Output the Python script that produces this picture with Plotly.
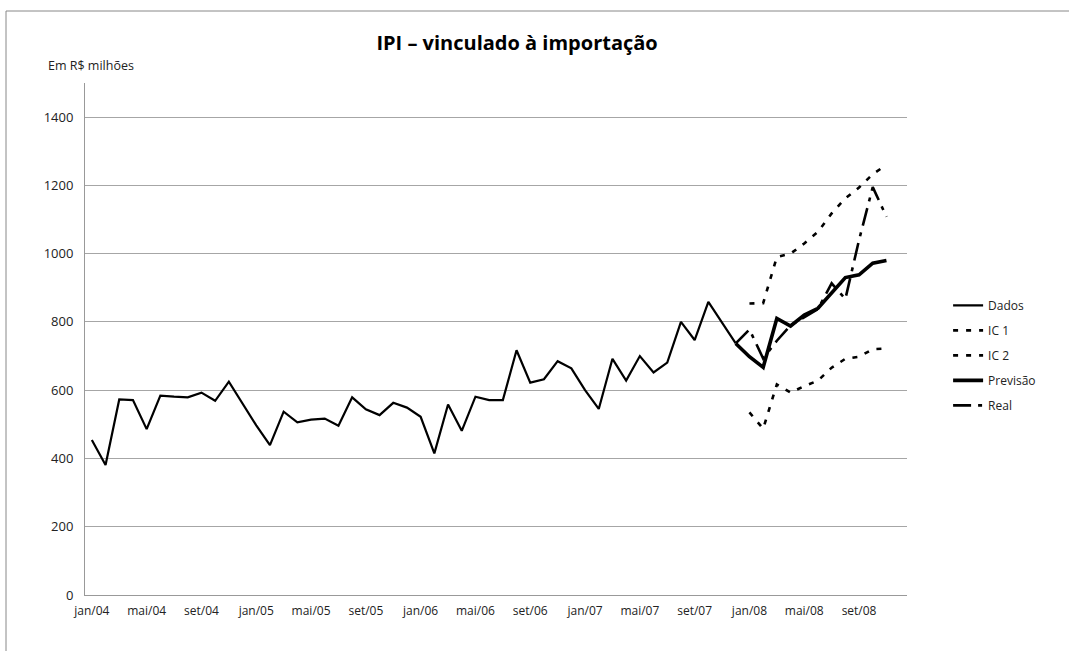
import plotly.graph_objects as go

month_names = ["jan", "fev", "mar", "abr", "mai", "jun", "jul", "ago", "set", "out", "nov", "dez"]
years = ["04", "05", "06", "07", "08"]
months = [f"{m}/{y}" for y in years for m in month_names]

dados = [454, 381, 573, 571, 486, 584, 581, 579, 593, 569, 625, 560,
         497, 439, 537, 506, 514, 517, 496, 579, 544, 527, 563, 549,
         522, 415, 558, 481, 581, 571, 571, 717, 622, 632, 685, 664,
         600, 545, 692, 628, 700, 652, 681, 800, 747, 859, 798, 737]
dados_x = months[0:48]

previsao = [737, 698, 667, 810, 788, 820, 840, 885, 930, 938, 972, 980]
previsao_x = months[47:59]

ic1 = [854, 855, 990, 1000, 1030, 1064, 1118, 1162, 1194, 1233, 1260]
ic2 = [535, 487, 617, 593, 612, 628, 666, 692, 698, 720, 722]
ic_x = months[48:59]

real = [737, 778, 693, 745, 790, 815, 838, 913, 867, 1040, 1195, 1108]
real_x = months[47:59]

tick_labels = months[0:60:4]
y_ticks = [0, 200, 400, 600, 800, 1000, 1200, 1400]

FONT = "Open Sans"

fig = go.Figure()
fig.add_trace(go.Scatter(x=dados_x, y=dados, mode="lines", name="Dados", legendgroup="a",
                         line=dict(color="#000000", width=2.2)))
fig.add_trace(go.Scatter(x=ic_x, y=ic1, mode="lines", name="IC 1", legendgroup="b",
                         line=dict(color="#000000", width=2.6, dash="5px,8px")))
fig.add_trace(go.Scatter(x=ic_x, y=ic2, mode="lines", name="IC 2", legendgroup="c",
                         line=dict(color="#000000", width=2.6, dash="5px,8px")))
fig.add_trace(go.Scatter(x=previsao_x, y=previsao, mode="lines", name="Previsão", legendgroup="d",
                         line=dict(color="#000000", width=3.6)))
fig.add_trace(go.Scatter(x=real_x, y=real, mode="lines", name="Real", legendgroup="e",
                         line=dict(color="#000000", width=2.6, dash="18px,7px,4px,7px")))

fig.update_layout(
    width=1069, height=651,
    margin=dict(l=85, r=162, t=83, b=56),
    paper_bgcolor="white", plot_bgcolor="white",
    font=dict(family=FONT, size=12, color="#222222"),
    title=dict(text="<b>IPI – vinculado à importação</b>", x=0.4837, xanchor="center",
               y=0.934, yanchor="middle", font=dict(family=FONT, size=20, color="#000000")),
    xaxis=dict(type="category", categoryorder="array", categoryarray=months,
               range=[-0.5, 59.5], tickmode="array", tickvals=tick_labels, ticktext=tick_labels,
               showgrid=False, showline=True, linecolor="#999999", linewidth=1,
               ticks="", zeroline=False, ticklabelstandoff=5,
               tickfont=dict(size=12, color="#222222")),
    yaxis=dict(range=[0, 1500], tickvals=y_ticks, showgrid=True, gridcolor="#a6a6a6",
               gridwidth=1, showline=True, linecolor="#999999", linewidth=1, ticks="",
               zeroline=False, ticklabelstandoff=8, tickfont=dict(size=13, color="#222222")),
    legend=dict(x=1.05, y=0.594, xanchor="left", yanchor="top", tracegroupgap=6,
                font=dict(size=12, color="#222222"), bgcolor="rgba(0,0,0,0)"),
    showlegend=True,
)

fig.add_annotation(text="Em R$ milhões", xref="paper", yref="paper", x=-0.047, y=1.035,
                   xanchor="left", yanchor="middle", showarrow=False,
                   font=dict(family=FONT, size=12.5, color="#222222"))

fig.add_shape(type="rect", xref="paper", yref="paper", x0=-0.0961, x1=1.3, y0=-0.3, y1=1.1406,
              line=dict(color="#888888", width=1), fillcolor="rgba(0,0,0,0)", layer="below")

fig.write_html("out.html", config={"displayModeBar": False},
               post_script="document.body.style.margin='0';")
